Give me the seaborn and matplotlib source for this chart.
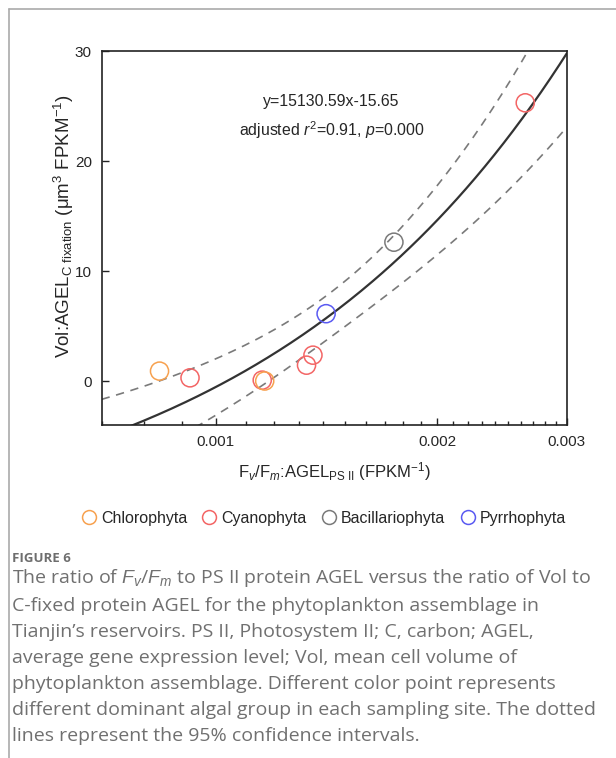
import numpy as np
import pandas as pd
import matplotlib.pyplot as plt
import seaborn as sns
from matplotlib.lines import Line2D

# data
fv_fm_agel = [0.000839, 0.000923, 0.001157, 0.001166, 0.001329, 0.001356, 0.001413, 0.001747, 0.002635]
vol_agel = [0.90, 0.29, 0.08, 0.00, 1.44, 2.35, 6.12, 12.62, 25.29]
group = ["Chlorophyta", "Cyanophyta", "Cyanophyta", "Chlorophyta", "Cyanophyta",
         "Cyanophyta", "Pyrrhophyta", "Bacillariophyta", "Cyanophyta"]
groups = ["Chlorophyta", "Cyanophyta", "Bacillariophyta", "Pyrrhophyta"]
colors = ["#F7A14F", "#F36565", "#7A7A7A", "#5A5AF2"]

df = pd.DataFrame({"x": fv_fm_agel, "y": vol_agel, "group": group})

sns.set_style("white")
plt.rcParams["font.family"] = ["Liberation Sans", "DejaVu Sans"]
plt.rcParams["mathtext.fontset"] = "custom"
plt.rcParams["mathtext.rm"] = "Liberation Sans"
plt.rcParams["mathtext.it"] = "Liberation Sans:italic"

fig = plt.figure(figsize=(6.16, 7.58), dpi=100)
ax = fig.add_axes([0.165, 0.4393, 0.755, 0.4934])

ax.set_xscale("log")
ax.set_xlim(0.0007, 0.003)
ax.set_ylim(-4, 30)

# linear fit + 95% confidence band of the mean
n = len(df)
slope, intercept = np.polyfit(df["x"], df["y"], 1)
resid = df["y"] - (slope * df["x"] + intercept)
s = np.sqrt((resid ** 2).sum() / (n - 2))
xbar = df["x"].mean()
sxx = ((df["x"] - xbar) ** 2).sum()
t975 = 2.365
grid = np.geomspace(0.0007, 0.003, 200)
yfit = slope * grid + intercept
half = t975 * s * np.sqrt(1 / n + (grid - xbar) ** 2 / sxx)

ax.plot(grid, yfit, color="#333333", lw=1.6, zorder=2)
ax.plot(grid, yfit + half, color="#7A7A7A", lw=1.2, ls=(0, (5, 4)), zorder=2)
ax.plot(grid, yfit - half, color="#7A7A7A", lw=1.2, ls=(0, (5, 4)), zorder=2)

sns.scatterplot(data=df, x="x", y="y", hue="group", hue_order=groups,
                palette=colors, ax=ax, s=170, marker="o", legend=False,
                linewidth=1.1, zorder=3)
# open circles
for coll in ax.collections:
    coll.set_facecolor("none")
    ec = [colors[groups.index(g)] for g in df["group"]]
    coll.set_edgecolor(ec)

ax.set_xticks([0.001, 0.002, 0.003])
ax.set_xticklabels(["0.001", "0.002", "0.003"])
ax.set_xticks(np.arange(7, 30) * 0.0001, minor=True)
ax.xaxis.set_minor_formatter(plt.NullFormatter())
ax.set_yticks([0, 10, 20, 30])
ax.tick_params(axis="both", which="major", direction="in", length=5, width=1,
               labelsize=11, color="#222222", pad=7, left=True, bottom=True)
ax.tick_params(axis="x", which="minor", direction="in", length=3, width=1,
               color="#222222", bottom=True)
for sp in ax.spines.values():
    sp.set_color("#222222")
    sp.set_linewidth(1.2)

ax.set_xlabel(r"F$_{v}$/F$_{m}$:AGEL$_{\mathrm{PS\ II}}$ (FPKM$^{-1}$)", fontsize=12, labelpad=8)
ax.set_ylabel(r"Vol:AGEL$_{\mathrm{C\ fixation}}$ ($\mathrm{\mu}$m$^{3}$ FPKM$^{-1}$)", fontsize=13.5)
ax.yaxis.set_label_coords(-0.055, 0.532)

ax.text(0.494, 0.866, "y=15130.59x-15.65", transform=ax.transAxes,
        ha="center", va="center", fontsize=11.4)
ax.text(0.494, 0.789, r"adjusted $r^{2}$=0.91, $p$=0.000", transform=ax.transAxes,
        ha="center", va="center", fontsize=11.4)

handles = [Line2D([], [], marker="o", ls="none", markersize=10, markerfacecolor="none",
                  markeredgecolor=c, markeredgewidth=1.1) for c in colors]
fig.legend(handles, groups, loc="center", bbox_to_anchor=(0.525, 1 - 518 / 758),
           ncol=4, frameon=False, fontsize=11.5, handletextpad=0.25, columnspacing=0.9,
           handlelength=1.0)

# page frame and caption
fig.add_artist(Line2D([9 / 616, 9 / 616], [0, 1 - 9 / 758], transform=fig.transFigure,
                      color="#AAAAAA", lw=1.2))
fig.add_artist(Line2D([9 / 616, 1], [1 - 9 / 758, 1 - 9 / 758], transform=fig.transFigure,
                      color="#AAAAAA", lw=1.2))

fig.text(12 / 616, 1 - 558 / 758, "FIGURE 6", fontsize=9.5, color="#6E6E6E",
         fontweight="bold", family=["Open Sans", "DejaVu Sans"], va="center")
caption = ("The ratio of $F_v$/$F_m$ to PS II protein AGEL versus the ratio of Vol to\n"
           "C-fixed protein AGEL for the phytoplankton assemblage in\n"
           "Tianjin\u2019s reservoirs. PS II, Photosystem II; C, carbon; AGEL,\n"
           "average gene expression level; Vol, mean cell volume of\n"
           "phytoplankton assemblage. Different color point represents\n"
           "different dominant algal group in each sampling site. The dotted\n"
           "lines represent the 95% confidence intervals.")
fig.text(12 / 616, 1 - 567 / 758, caption, fontsize=14, color="#707070",
         family=["Open Sans", "DejaVu Sans"], va="top", linespacing=1.57)

fig.savefig("out.png", dpi=100)
